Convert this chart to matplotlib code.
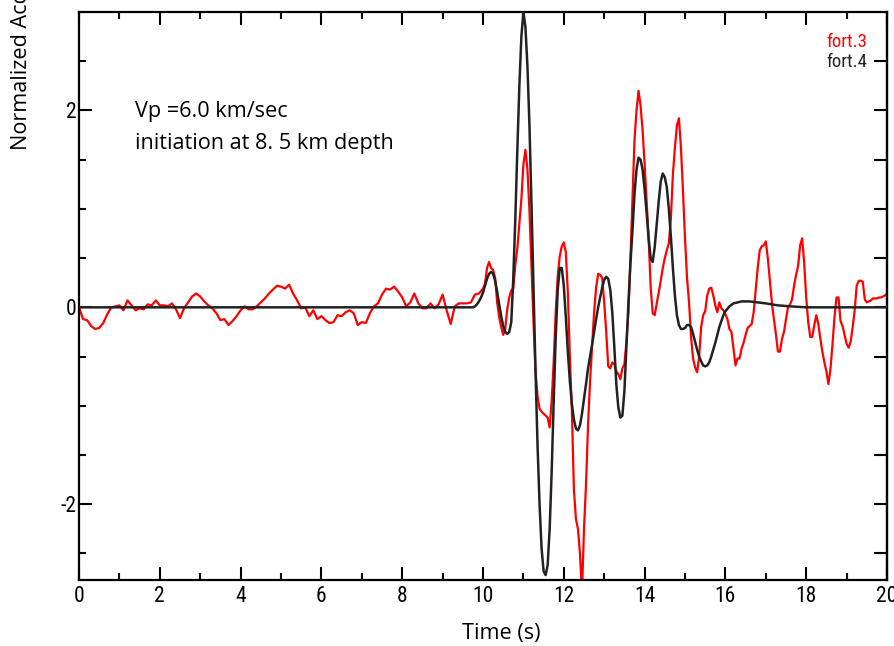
import numpy as np
import matplotlib
matplotlib.use("Agg")
import matplotlib.pyplot as plt
from matplotlib.ticker import MultipleLocator

# ---- data -------------------------------------------------------------
# fort.3: observed trace, 0.1 s steps up to 10 s, then 0.05 s steps
red_time_early = [round(0.1 * i, 2) for i in range(100)]
red_accel_early = [
    0.00, -0.12, -0.13, -0.19, -0.22, -0.21, -0.16, -0.07, 0.00, 0.01,
    0.02, -0.03, 0.07, 0.02, -0.03, -0.01, -0.02, 0.03, 0.02, 0.07,
    0.02, 0.02, 0.01, 0.04, -0.02, -0.11, -0.01, 0.05, 0.11, 0.14,
    0.11, 0.06, 0.02, -0.01, -0.06, -0.13, -0.12, -0.18, -0.14, -0.09,
    -0.03, 0.01, -0.02, -0.02, 0.01, 0.05, 0.09, 0.14, 0.18, 0.22,
    0.21, 0.19, 0.23, 0.14, 0.07, -0.01, 0.00, -0.09, -0.03, -0.12,
    -0.09, -0.13, -0.16, -0.15, -0.08, -0.09, -0.05, -0.03, -0.06, -0.18,
    -0.15, -0.16, -0.06, 0.01, 0.04, 0.13, 0.19, 0.18, 0.21, 0.16,
    0.10, 0.01, 0.05, 0.14, 0.04, -0.01, -0.01, 0.04, -0.01, 0.03,
    0.13, -0.03, -0.17, 0.01, 0.04, 0.04, 0.04, 0.05, 0.13, 0.14,
]
red_time_late = [round(10.0 + 0.05 * i, 2) for i in range(201)]
red_accel_late = [
    0.19, 0.24, 0.40, 0.46, 0.40, 0.38, 0.30, 0.05, -0.10, -0.20,
    -0.28, -0.22, -0.02, 0.10, 0.17, 0.19, 0.43, 0.60, 0.85, 1.10,
    1.45, 1.60, 1.40, 0.98, 0.40, -0.15, -0.65, -0.90, -1.03, -1.06,
    -1.08, -1.10, -1.12, -1.22, -0.95, -0.55, -0.05, 0.32, 0.52, 0.62,
    0.66, 0.56, 0.15, -0.50, -1.05, -1.85, -2.15, -2.25, -2.50, -2.90,
    -2.25, -1.80, -1.20, -0.75, -0.40, -0.05, 0.20, 0.34, 0.33, 0.30,
    0.05, -0.25, -0.60, -0.62, -0.56, -0.58, -0.65, -0.68, -0.73, -0.62,
    -0.58, -0.35, -0.05, 0.50, 1.10, 1.70, 2.00, 2.20, 2.05, 1.80,
    1.46, 1.08, 0.70, 0.21, -0.06, -0.08, 0.04, 0.15, 0.27, 0.40,
    0.50, 0.58, 0.65, 0.90, 1.35, 1.62, 1.85, 1.92, 1.62, 1.18,
    0.70, 0.30, 0.05, -0.30, -0.52, -0.61, -0.66, -0.50, -0.20, -0.08,
    -0.04, 0.12, 0.19, 0.20, 0.12, 0.02, -0.05, 0.05, -0.01, -0.03,
    -0.07, -0.12, -0.22, -0.25, -0.42, -0.59, -0.52, -0.52, -0.42, -0.36,
    -0.28, -0.21, -0.19, -0.17, -0.05, 0.18, 0.40, 0.58, 0.62, 0.63,
    0.67, 0.50, 0.28, 0.05, -0.12, -0.27, -0.45, -0.45, -0.32, -0.25,
    -0.12, 0.00, 0.03, 0.08, 0.22, 0.33, 0.42, 0.63, 0.70, 0.45,
    0.10, -0.15, -0.30, -0.30, -0.18, -0.08, -0.17, -0.32, -0.45, -0.56,
    -0.65, -0.78, -0.63, -0.38, -0.10, 0.10, 0.10, -0.14, -0.19, -0.28,
    -0.37, -0.41, -0.35, -0.20, -0.03, 0.22, 0.27, 0.27, 0.26, 0.08,
    0.05, 0.06, 0.07, 0.09, 0.09, 0.09, 0.10, 0.10, 0.11, 0.12,
    0.14,
]

# fort.4: synthetic trace
black_time = [0.0, 9.70, 9.75, 9.80, 9.85, 9.90, 9.95,
              10.00, 10.05, 10.10, 10.15, 10.20, 10.25, 10.30, 10.35, 10.40, 10.45,
              10.50, 10.55, 10.60, 10.65, 10.70, 10.75, 10.80, 10.85, 10.90, 10.95,
              11.00, 11.05, 11.10, 11.15, 11.20, 11.25, 11.30, 11.35, 11.40, 11.45,
              11.50, 11.55, 11.60, 11.65, 11.70, 11.75, 11.80, 11.85, 11.90, 11.95,
              12.00, 12.05, 12.10, 12.15, 12.20, 12.25, 12.30, 12.35, 12.40, 12.45,
              12.50, 12.55, 12.60, 12.65, 12.70, 12.75, 12.80, 12.85, 12.90, 12.95,
              13.00, 13.05, 13.10, 13.15, 13.20, 13.25, 13.30, 13.35, 13.40, 13.45,
              13.50, 13.55, 13.60, 13.65, 13.70, 13.75, 13.80, 13.85, 13.90, 13.95,
              14.00, 14.05, 14.10, 14.15, 14.20, 14.25, 14.30, 14.35, 14.40, 14.45,
              14.50, 14.55, 14.60, 14.65, 14.70, 14.75, 14.80, 14.85, 14.90, 14.95,
              15.00, 15.05, 15.10, 15.15, 15.20, 15.25, 15.30, 15.35, 15.40, 15.45,
              15.50, 15.55, 15.60, 15.65, 15.70, 15.75, 15.80, 15.85, 15.90, 15.95,
              16.00, 16.10, 16.20, 16.30, 16.40, 16.60, 16.80, 17.00, 17.30, 17.60,
              18.00, 20.00]
black_accel = [0.00, 0.00, 0.00, 0.01, 0.03, 0.06, 0.10,
               0.15, 0.22, 0.29, 0.34, 0.36, 0.34, 0.27, 0.16, 0.03, -0.09,
               -0.19, -0.25, -0.27, -0.25, -0.15, 0.30, 0.90, 1.60, 2.25, 2.75,
               3.00, 2.85, 2.45, 1.85, 1.05, 0.20, -0.65, -1.40, -2.00, -2.45,
               -2.68, -2.72, -2.62, -2.25, -1.67, -0.95, -0.30, 0.18, 0.40, 0.40,
               0.22, -0.10, -0.45, -0.75, -0.98, -1.14, -1.23, -1.25, -1.20, -1.08,
               -0.93, -0.78, -0.62, -0.50, -0.38, -0.25, -0.12, 0.00, 0.10, 0.20,
               0.28, 0.31, 0.29, 0.18, -0.05, -0.40, -0.78, -1.02, -1.12, -1.10,
               -0.85, -0.40, 0.05, 0.45, 0.78, 1.15, 1.40, 1.52, 1.50, 1.40,
               1.20, 0.96, 0.70, 0.50, 0.46, 0.61, 0.85, 1.08, 1.28, 1.36,
               1.32, 1.22, 1.00, 0.72, 0.40, 0.12, -0.08, -0.18, -0.22, -0.22,
               -0.21, -0.18, -0.18, -0.20, -0.27, -0.35, -0.43, -0.50, -0.55, -0.59,
               -0.60, -0.59, -0.56, -0.50, -0.43, -0.36, -0.28, -0.20, -0.14, -0.08,
               -0.04, 0.01, 0.04, 0.05, 0.06, 0.06, 0.05, 0.04, 0.02, 0.01,
               0.00, 0.00]

x_ticks = [0, 2, 4, 6, 8, 10, 12, 14, 16, 18, 20]
y_ticks = [-2, 0, 2]
series_labels = ["fort.3", "fort.4"]
series_colors = ["#ff0000", "#222222"]

# ---- figure -------------------------------------------------------------
W, H = 894, 646
fig = plt.figure(figsize=(W / 100, H / 100), dpi=100)
ax = fig.add_axes([79 / W, 1 - 580 / H, (887 - 79) / W, (580 - 12) / H])

narrow = ["Roboto Condensed", "PT Sans Narrow", "DejaVu Sans"]
text_font = ["Open Sans", "DejaVu Sans"]
text_size = 15.6
tick_size = 15.5

ax.plot(red_time_early + red_time_late, red_accel_early + red_accel_late,
        color=series_colors[0], lw=1.6, zorder=2)
ax.plot(black_time, black_accel, color=series_colors[1], lw=1.8, zorder=3)

ax.set_xlim(0, 20)
ax.set_ylim(-2.77, 3.0)

ax.set_xticks(x_ticks)
ax.set_xticklabels([str(v) for v in x_ticks], fontfamily=narrow,
                   fontsize=tick_size)
ax.xaxis.set_minor_locator(MultipleLocator(1))
ax.set_yticks(y_ticks)
ax.set_yticklabels([str(v) for v in y_ticks], fontfamily=narrow,
                   fontsize=tick_size)
ax.yaxis.set_minor_locator(MultipleLocator(0.5))

ax.tick_params(axis="x", which="both", direction="in", top=True, bottom=True,
               width=1.5, pad=4)
ax.tick_params(axis="x", which="major", length=9.5)
ax.tick_params(axis="x", which="minor", length=5)
ax.tick_params(axis="y", which="both", direction="in", left=True, right=False,
               width=1.5, pad=1.5)
ax.tick_params(axis="y", which="major", length=9.5)
ax.tick_params(axis="y", which="minor", length=5)

# right-hand axis carries uniform long ticks every 0.5
sec = ax.secondary_yaxis("right")
sec.set_yticks(np.arange(-2.5, 3.0, 0.5))
sec.tick_params(direction="in", length=9.5, width=1.5, labelright=False)
sec.spines["right"].set_linewidth(1.6)

for s in ax.spines.values():
    s.set_linewidth(1.6)

# annotation
fig.text(135 / W, 1 - 112 / H, "Vp =6.0 km/sec", fontfamily=text_font,
         fontsize=text_size, ha="left", va="center")
fig.text(135 / W, 1 - 143 / H, "initiation at 8. 5 km depth",
         fontfamily=text_font, fontsize=text_size, ha="left", va="center")

# series labels
fig.text(867 / W, 1 - 42 / H, series_labels[0], color=series_colors[0],
         fontfamily=narrow, fontsize=13.5, ha="right", va="center")
fig.text(867 / W, 1 - 62 / H, series_labels[1], color=series_colors[1],
         fontfamily=narrow, fontsize=13.5, ha="right", va="center")

# axis titles
fig.text(501 / W, 1 - 633 / H, "Time (s)", fontfamily=text_font,
         fontsize=text_size, ha="center", va="center")
fig.text(22 / W, 1 - 150 / H, "Normalized Acceleration", fontfamily=text_font,
         fontsize=text_size, rotation=90, ha="center", va="bottom")

fig.savefig("out.png", dpi=100)
